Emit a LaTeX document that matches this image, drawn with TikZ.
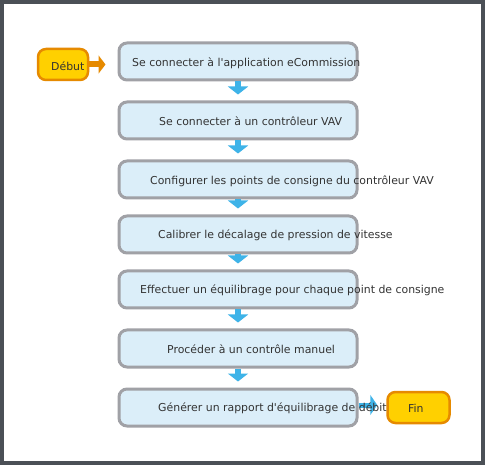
\documentclass[tikz,border=0pt]{standalone}
\usepackage{fontspec}
\newfontfamily\dvs{DejaVu Sans}
\usetikzlibrary{arrows.meta}
\definecolor{frameC}{HTML}{4B5056}
\definecolor{boxFill}{HTML}{DBEEF9}
\definecolor{boxLine}{HTML}{A0A1A6}
\definecolor{blueA}{HTML}{3EB3E8}
\definecolor{termFill}{HTML}{FFD000}
\definecolor{termLine}{HTML}{E68A00}
\definecolor{txt}{HTML}{333333}
\tikzset{
  stepbox/.style={draw=boxLine, fill=boxFill, line width=3pt, rounded corners=8pt,
    minimum width=238pt, minimum height=37pt, inner sep=0pt},
  termbox/.style={draw=termLine, fill=termFill, line width=2.5pt, rounded corners=8pt,
    inner sep=0pt},
  lbl/.style={anchor=west, text=txt, font=\dvs\fontsize{10.9pt}{13pt}\selectfont, inner sep=0pt},
  downarrow/.style={draw=blueA, line width=6pt, -{Triangle[width=20pt,length=8pt]}, shorten >=6pt},
}
\begin{document}
\begin{tikzpicture}[x=1pt,y=-1pt]
\useasboundingbox (0,0) rectangle (485,465);
\draw[frameC, line width=4pt, fill=white] (2,2) rectangle (483,463);

\node[stepbox] (b1) at (238,61.5) {};
\node[stepbox] (b2) at (238,120.5) {};
\node[stepbox] (b3) at (238,179.5) {};
\node[stepbox] (b4) at (238,234.5) {};
\node[stepbox] (b5) at (238,289.5) {};
\node[stepbox] (b6) at (238,348.5) {};
\node[stepbox] (b7) at (238,407.5) {};

\node[termbox, minimum width=50pt, minimum height=31pt] (start) at (63,64.5) {};
\node[termbox, minimum width=62pt, minimum height=31pt] (end) at (418.5,407.5) {};

\draw[downarrow] (b1.south) -- (b2.north);
\draw[downarrow] (b2.south) -- (b3.north);
\draw[downarrow] (b3.south) -- (b4.north);
\draw[downarrow] (b4.south) -- (b5.north);
\draw[downarrow] (b5.south) -- (b6.north);
\draw[downarrow] (b6.south) -- (b7.north);

\draw[termLine, line width=6pt, -{Triangle[width=18pt,length=7pt]}, shorten <=-1pt, shorten >=12pt] (start.east) -- (b1.west |- start.east);
\draw[blueA, line width=5pt, -{Triangle[width=20pt,length=7pt]}, shorten >=9pt] (b7.east |- 0,405) -- (end.west |- 0,405);

\node[lbl] (t1) at (132,63) {Se connecter à l'application eCommission};
\node[lbl] (t2) at (159,121.5) {Se connecter à un contrôleur VAV};
\node[lbl] (t3) at (150,181) {Configurer les points de consigne du contrôleur VAV};
\node[lbl] (t4) at (158,235) {Calibrer le décalage de pression de vitesse};
\node[lbl] (t5) at (140,290.5) {Effectuer un équilibrage pour chaque point de consigne};
\node[lbl] (t6) at (167,349.5) {Procéder à un contrôle manuel};
\node[lbl] (t7) at (158,408) {Générer un rapport d'équilibrage de débit};
\node[lbl] (ts) at (51,66) {Début};
\node[lbl] (te) at (408,408) {Fin};
\end{tikzpicture}
\end{document}
